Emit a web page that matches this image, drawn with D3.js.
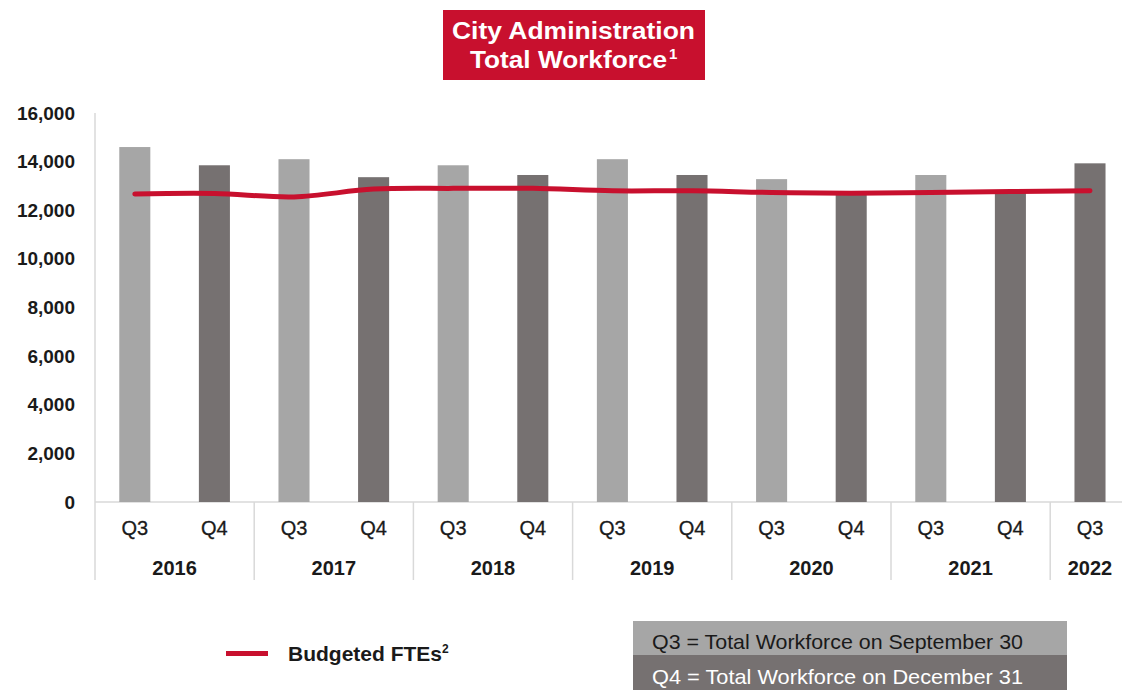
<!DOCTYPE html>
<html>
<head>
<meta charset="utf-8">
<script src="https://cdn.jsdelivr.net/npm/d3@7"></script>
<style>
  html, body { margin: 0; padding: 0; background: #fff; }
  svg { display: block; font-family: "Liberation Sans", Arial, sans-serif; }
</style>
</head>
<body>
<svg id="chart" width="1122" height="690"></svg>
<script>
// ---- data ----
const quarters = ["Q3","Q4","Q3","Q4","Q3","Q4","Q3","Q4","Q3","Q4","Q3","Q4","Q3"];
const years = ["2016","2017","2018","2019","2020","2021","2022"];
const yearSpans = [2,2,2,2,2,2,1];
const workforce = [14600, 13850, 14100, 13360, 13850, 13450, 14100, 13450, 13280, 12700, 13450, 12750, 13930];
const budgetedFTEs = [12670, 12690, 12550, 12870, 12900, 12900, 12800, 12800, 12730, 12700, 12730, 12770, 12800];
const yTicks = [0, 2000, 4000, 6000, 8000, 10000, 12000, 14000, 16000];
const titleLines = ["City Administration", "Total Workforce"];
const legendLine = "Budgeted FTEs";
const legendBoxes = ["Q3 = Total Workforce on September 30", "Q4 = Total Workforce on  December 31"];

// ---- layout ----
const svg = d3.select("#chart");
const x0 = 95, step = 79.6;
const x1 = x0 + step * quarters.length;
const yBase = 502, yTop = 113;
const colQ3 = "#a6a6a6", colQ4 = "#767171", red = "#c8102e", axisCol = "#d9d9d9";
const lastIdx = quarters.length - 1;
const barColor = i => (quarters[i] === "Q4" || i === lastIdx) ? colQ4 : colQ3;

const idx = quarters.map((d, i) => i);
const x = d3.scaleBand().domain(idx).range([x0, x1]).paddingInner(0.61).paddingOuter(0.305);
const y = d3.scaleLinear().domain([0, 16000]).range([yBase, yTop]);

// title box
svg.append("rect").attr("x", 443).attr("y", 10).attr("width", 262).attr("height", 70).attr("fill", red);
svg.append("text").attr("fill", "#fff").attr("font-weight", "bold").attr("font-size", 24)
  .attr("x", 452).attr("y", 39).attr("textLength", 243).attr("lengthAdjust", "spacingAndGlyphs").text(titleLines[0]);
svg.append("text").attr("fill", "#fff").attr("font-weight", "bold").attr("font-size", 24)
  .attr("x", 470).attr("y", 68).attr("textLength", 197).attr("lengthAdjust", "spacingAndGlyphs").text(titleLines[1]);
svg.append("text").attr("fill", "#fff").attr("font-weight", "bold").attr("font-size", 15)
  .attr("x", 669).attr("y", 59).text("1");

// y axis
const yAxis = d3.axisLeft(y).tickValues(yTicks).tickFormat(d3.format(",")).tickSize(0).tickPadding(20);
const gy = svg.append("g").attr("transform", `translate(${x0},0)`).call(yAxis);
gy.select(".domain").remove();
gy.selectAll("text").attr("font-size", 19).attr("font-weight", "bold").attr("fill", "#1a1a1a")
  .attr("font-family", "Liberation Sans, Arial, sans-serif");

// axis lines
svg.append("line").attr("x1", x0).attr("x2", x0).attr("y1", yTop).attr("y2", 580).attr("stroke", axisCol).attr("stroke-width", 1.5);
svg.append("line").attr("x1", x0).attr("x2", x1).attr("y1", yBase).attr("y2", yBase).attr("stroke", axisCol).attr("stroke-width", 1.5);

// bars
svg.append("g").selectAll("rect").data(workforce).join("rect")
  .attr("x", (d, i) => x(i)).attr("width", x.bandwidth())
  .attr("y", d => y(d)).attr("height", d => yBase - y(d))
  .attr("fill", (d, i) => barColor(i));

// budget line
const line = d3.line().x((d, i) => x(i) + x.bandwidth() / 2).y(d => y(d)).curve(d3.curveCatmullRom.alpha(0.5));
svg.append("path").datum(budgetedFTEs).attr("d", line).attr("fill", "none").attr("stroke", red)
  .attr("stroke-width", 5).attr("stroke-linecap", "round");

// category labels
svg.append("g").selectAll("text").data(quarters).join("text")
  .attr("x", (d, i) => x(i) + x.bandwidth() / 2).attr("y", 535)
  .attr("text-anchor", "middle").attr("font-size", 20).attr("fill", "#1a1a1a")
  .attr("stroke", "#1a1a1a").attr("stroke-width", 0.3).text(d => d);

// year labels + separators
let acc = 0;
years.forEach((yr, k) => {
  const start = x0 + acc * step;
  const end = start + yearSpans[k] * step;
  svg.append("text").attr("x", (start + end) / 2).attr("y", 575).attr("text-anchor", "middle")
    .attr("font-size", 20).attr("font-weight", "bold").attr("fill", "#1a1a1a").text(yr);
  if (k > 0) {
    svg.append("line").attr("x1", start).attr("x2", start).attr("y1", yBase).attr("y2", 580)
      .attr("stroke", axisCol).attr("stroke-width", 1.5);
  }
  acc += yearSpans[k];
});

// legend: line
svg.append("line").attr("x1", 226).attr("x2", 268).attr("y1", 653.5).attr("y2", 653.5)
  .attr("stroke", red).attr("stroke-width", 5);
const lt = svg.append("text").attr("x", 288).attr("y", 661).attr("font-size", 21).attr("font-weight", "bold").attr("fill", "#1a1a1a");
lt.append("tspan").text(legendLine);
lt.append("tspan").attr("font-size", 12).attr("dy", -8).text("2");

// legend: boxes
svg.append("rect").attr("x", 633).attr("y", 621).attr("width", 434).attr("height", 34).attr("fill", colQ3);
svg.append("rect").attr("x", 633).attr("y", 655).attr("width", 434).attr("height", 35).attr("fill", colQ4);
svg.append("text").attr("x", 652).attr("y", 649).attr("font-size", 21).attr("fill", "#1a1a1a")
  .attr("textLength", 371).attr("lengthAdjust", "spacingAndGlyphs").text(legendBoxes[0]);
svg.append("text").attr("x", 652).attr("y", 684).attr("font-size", 21).attr("fill", "#ffffff")
  .attr("textLength", 371).attr("lengthAdjust", "spacingAndGlyphs").text(legendBoxes[1]);
</script>
</body>
</html>
